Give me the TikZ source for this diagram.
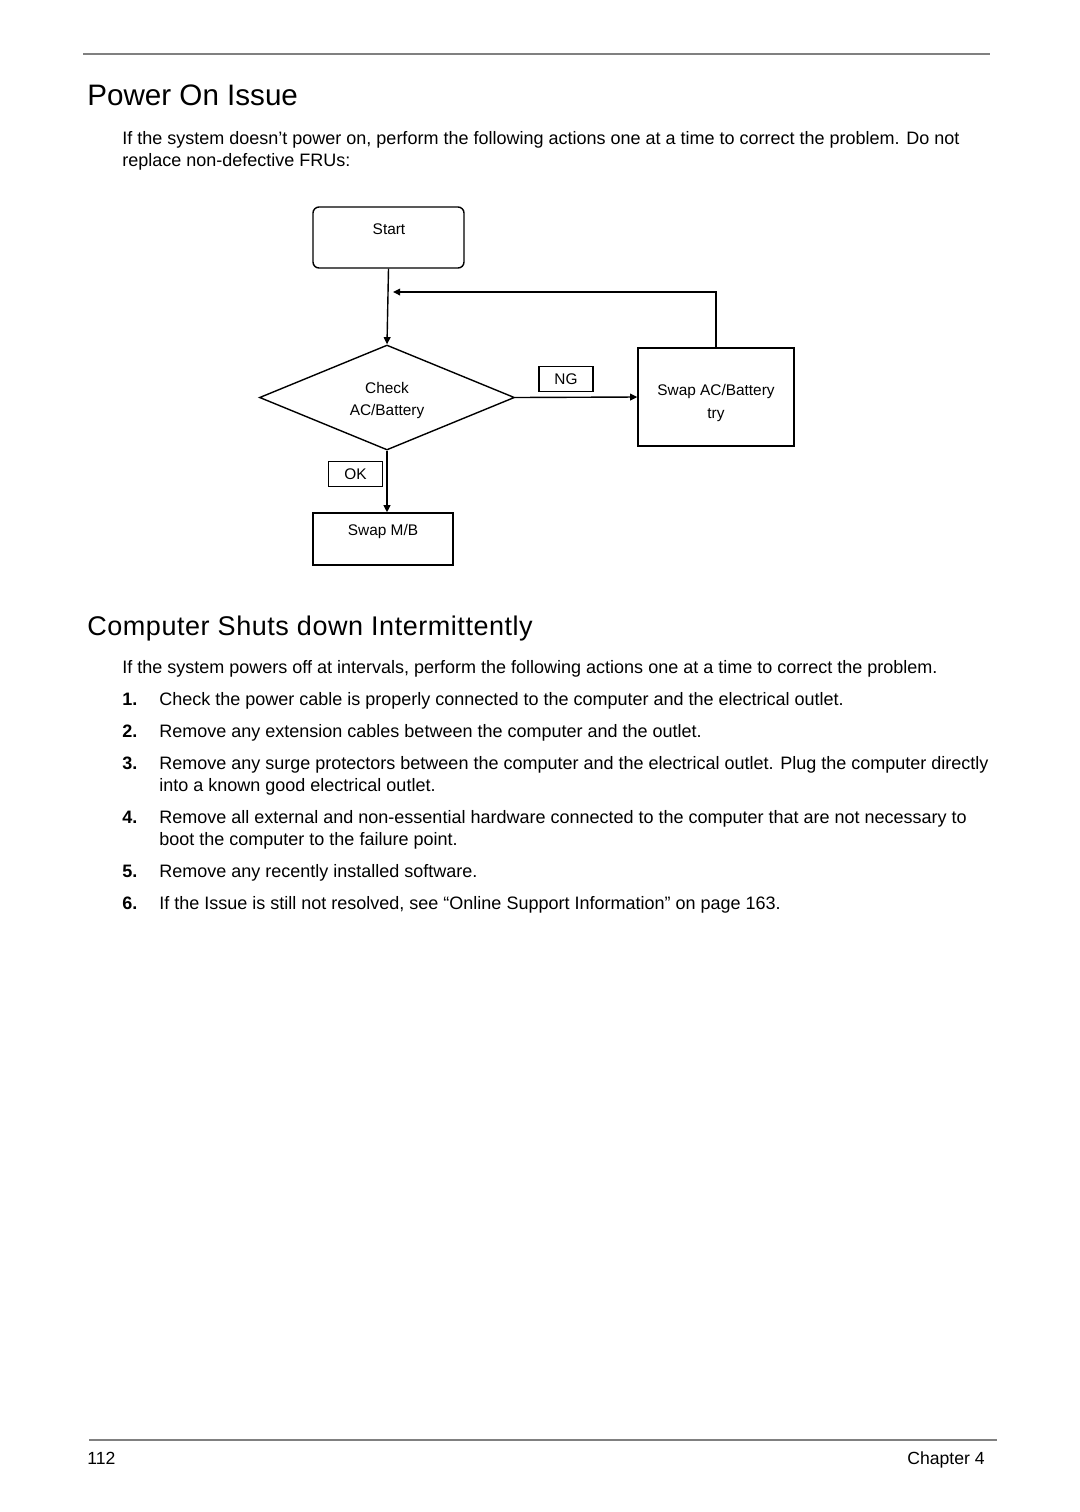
\documentclass[tikz,border=0pt]{standalone}
\usepackage{fontspec}
\setmainfont{Liberation Sans}
\newfontfamily\headfont[LetterSpace=2]{Liberation Sans}
\usetikzlibrary{arrows.meta,shapes.geometric}
\tikzset{
  rule/.style={draw=black!50, line width=1pt},
  boxnode/.style={draw, line width=0.7pt, inner sep=0pt},
  lbl/.style={inner sep=0pt, font=\fontsize{7.7}{9}\selectfont},
  tagbox/.style={draw, line width=0.7pt, inner sep=0pt, minimum width=27pt, minimum height=12.5pt, font=\fontsize{7.7}{9}\selectfont},
  conn/.style={line width=0.7pt, -{Triangle[length=3.6pt,width=3.4pt]}},
  body/.style={anchor=base west, inner sep=0pt, font=\fontsize{9}{11}\selectfont},
  num/.style={anchor=base west, inner sep=0pt, font=\fontsize{9}{11}\selectfont\bfseries},
  foot/.style={inner sep=0pt, font=\fontsize{8.8}{10}\selectfont},
}
\begin{document}
\begin{tikzpicture}[x=0.5pt,y=-0.5pt]
\useasboundingbox[fill=white] (0,0) rectangle (1080,1512);
% header rule and title
\draw[rule] (83,54) -- (990,54);
\node[anchor=base west, inner sep=0pt, font=\fontsize{14.8}{17}\selectfont] (title) at (87,105) {Power On Issue};
\node[body] (p1a) at (122,144) {If the system doesn’t power on, perform the following actions one at a time to correct the problem. Do not};
\node[body] (p1b) at (122,166) {replace non-defective FRUs:};
% flowchart
\node[boxnode, rounded corners=3pt, minimum width=75.5pt, minimum height=30.5pt] (start) at (388.5,237.5) {};
\node[lbl] (startt) at (389,229) {Start};
\node[boxnode, diamond, minimum width=127.5pt, minimum height=52.5pt] (chk) at (387,397.5) {};
\node[lbl] (chk1) at (387,388) {Check};
\node[lbl] (chk2) at (387,412) {AC/Battery};
\node[boxnode, minimum width=78pt, minimum height=49pt] (swapac) at (716,397) {};
\node[lbl] (swapac1) at (716,392) {Swap AC/Battery};
\node[lbl] (swapac2) at (716,415) {try};
\node[boxnode, minimum width=70pt, minimum height=26pt] (swapmb) at (383,539) {};
\node[lbl] (swapmbt) at (383,532) {Swap M/B};
\node[tagbox] (ng) at (566,379) {NG};
\node[tagbox] (ok) at (355.5,474) {OK};
\coordinate (loopend) at (393,292);
\draw[conn] (start.south) -- (chk.north);
\draw[conn] (swapac.north) |- (loopend);
\draw[conn] (chk.east) -- (swapac.west);
\draw[conn] (chk.south) -- (chk.south |- swapmb.north);
% second section
\node[anchor=base west, inner sep=0pt, font=\fontsize{13.5}{16}\headfont] (head2) at (87,635) {Computer Shuts down Intermittently};
\node[body] (p2) at (122,673) {If the system powers off at intervals, perform the following actions one at a time to correct the problem.};
\node[num] (n1) at (122,705) {1.};
\node[body] (t1) at (159,705) {Check the power cable is properly connected to the computer and the electrical outlet.};
\node[num] (n2) at (122,737) {2.};
\node[body] (t2) at (159,737) {Remove any extension cables between the computer and the outlet.};
\node[num] (n3) at (122,769) {3.};
\node[body] (t3a) at (159,769) {Remove any surge protectors between the computer and the electrical outlet. Plug the computer directly};
\node[body] (t3b) at (159,791) {into a known good electrical outlet.};
\node[num] (n4) at (122,823) {4.};
\node[body] (t4a) at (159,823) {Remove all external and non-essential hardware connected to the computer that are not necessary to};
\node[body] (t4b) at (159,845) {boot the computer to the failure point.};
\node[num] (n5) at (122,877) {5.};
\node[body] (t5) at (159,877) {Remove any recently installed software.};
\node[num] (n6) at (122,909) {6.};
\node[body] (t6) at (159,909) {If the Issue is still not resolved, see “Online Support Information” on page 163.};
% footer
\draw[rule] (89,1440) -- (997,1440);
\node[foot, anchor=base west] (pg) at (87,1464) {112};
\node[foot, anchor=base east] (ch) at (985,1464) {Chapter 4};
\end{tikzpicture}
\end{document}
